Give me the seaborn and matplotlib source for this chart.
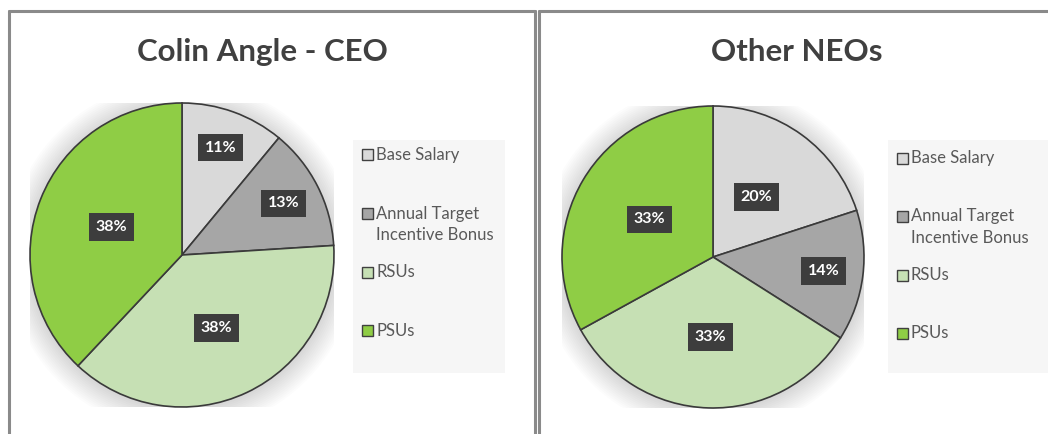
import numpy as np
import matplotlib
matplotlib.use("Agg")
import matplotlib.pyplot as plt
from matplotlib.patches import Rectangle, Circle
import seaborn as sns

# ---- data ----
categories = ["Base Salary", "Annual Target\nIncentive Bonus", "RSUs", "PSUs"]
ceo_values = [11, 13, 38, 38]
neo_values = [20, 14, 33, 33]
titles = ["Colin Angle - CEO", "Other NEOs"]

# ---- style ----
colors = ["#d9d9d9", "#a6a6a6", "#c6e0b4", "#8fcd45"]
ceo_label_dist = [0.75, 0.75, 0.53, 0.50]
neo_label_dist = [0.49, 0.74, 0.53, 0.49]

sns.set_theme(style="white")
plt.rcParams["font.family"] = ["Lato", "DejaVu Sans"]

W, H = 1048, 434
fig = plt.figure(figsize=(W / 100, H / 100), dpi=100)
fig.patch.set_facecolor("white")


def fx(px):
    return px / W


def fy(py):
    return 1 - py / H


# panel borders
for x0, x1 in [(9, 535), (539, 1060)]:
    for seg in [((x0, x0), (11, 440)), ((x0, x1), (11, 11)), ((x1, x1), (11, 440))]:
        fig.add_artist(plt.Line2D([fx(seg[0][0]), fx(seg[0][1])],
                                  [fy(seg[1][0]), fy(seg[1][1])],
                                  transform=fig.transFigure, color="#8a8a8a", lw=2.2))

panels = [
    dict(values=ceo_values, dists=ceo_label_dist, cx=182, cy=255, r=152,
         title=titles[0], tx=262, box=(353, 140, 152, 233), sw_x=362, first=155),
    dict(values=neo_values, dists=neo_label_dist, cx=713, cy=257, r=151,
         title=titles[1], tx=797, box=(888, 140, 170, 233), sw_x=897, first=158),
]
entry_step = 58.5
sw = 11

for p in panels:
    cx, cy, r = p["cx"], p["cy"], p["r"]
    ax = fig.add_axes([fx(cx - r), fy(cy + r), 2 * r / W, 2 * r / H])
    ax.set_xlim(-1, 1)
    ax.set_ylim(-1, 1)
    ax.set_aspect("equal")
    ax.axis("off")
    # soft shadow
    for k in range(14):
        ax.add_patch(Circle((0.0, -0.01), 1.0 + 0.012 * k, color="black",
                            alpha=0.012, lw=0, zorder=0))
    wedges, _ = ax.pie(p["values"], colors=colors, startangle=90, counterclock=False,
                       radius=1.0, frame=True,
                       wedgeprops=dict(edgecolor="#3a3a3a", linewidth=1.2))
    ax.set_xlim(-1, 1)
    ax.set_ylim(-1, 1)
    ax.axis("off")
    for w, v, d in zip(wedges, p["values"], p["dists"]):
        ang = np.deg2rad((w.theta1 + w.theta2) / 2)
        ax.text(d * np.cos(ang), d * np.sin(ang), f"{v}%", ha="center", va="center",
                color="white", fontsize=11.5, fontweight="bold", zorder=5,
                bbox=dict(boxstyle="square,pad=0.42", fc="#3d3d3d", ec="none"))
    fig.text(fx(p["tx"]), fy(52), p["title"], ha="center", va="center",
             fontsize=22.5, fontweight="bold", color="#404040")
    # legend
    bx, by, bw, bh = p["box"]
    fig.add_artist(Rectangle((fx(bx), fy(by + bh)), bw / W, bh / H,
                             transform=fig.transFigure, fc="#f6f6f6", ec="none"))
    for i, (w, lab) in enumerate(zip(wedges, categories)):
        yc = p["first"] + i * entry_step
        fig.add_artist(Rectangle((fx(p["sw_x"]), fy(yc + sw / 2)), sw / W, sw / H,
                                 transform=fig.transFigure, fc=w.get_facecolor(),
                                 ec="#404040", lw=1.0))
        fig.text(fx(p["sw_x"] + sw + 3), fy(yc - 8), lab, ha="left", va="top",
                 multialignment="left", fontsize=12, color="#595959", linespacing=1.45)

fig.savefig("out.png", dpi=100, facecolor="white")
